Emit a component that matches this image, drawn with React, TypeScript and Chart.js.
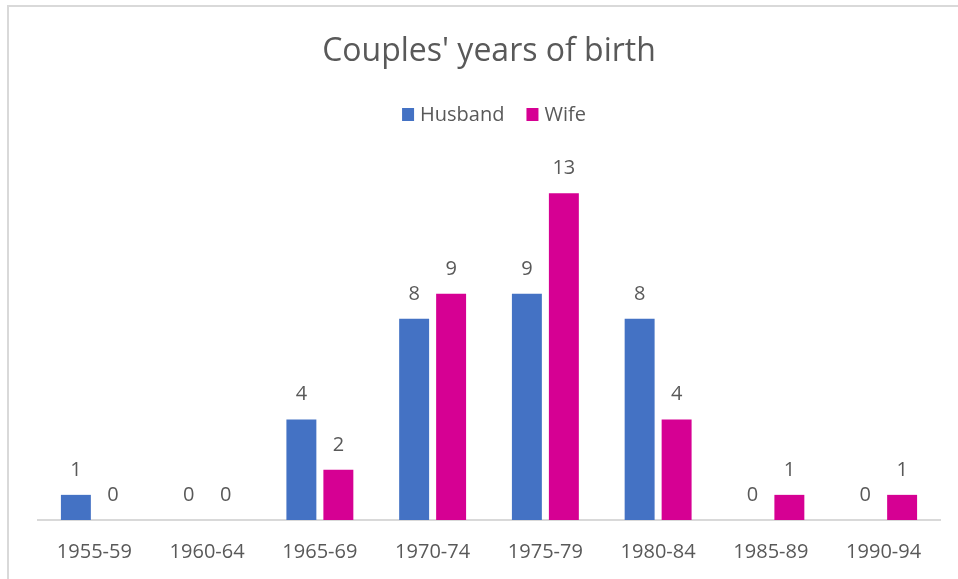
import React, { useEffect, useRef } from "react";
import { Chart, registerables } from "chart.js";

Chart.register(...registerables);

const categories = ["1955-59", "1960-64", "1965-69", "1970-74", "1975-79", "1980-84", "1985-89", "1990-94"];
const husbandValues = [1, 0, 4, 8, 9, 8, 0, 0];
const wifeValues = [0, 0, 2, 9, 13, 4, 1, 1];
const seriesNames = ["Husband", "Wife"];
const titleText = "Couples' years of birth";

const BLUE = "#4472C4";
const MAGENTA = "#D60093";
const TEXT = "#595959";
const FONT = "'Open Sans', sans-serif";

const framePlugin = {
  id: "frame",
  beforeDraw(chart: any) {
    const ctx = chart.ctx;
    ctx.save();
    ctx.fillStyle = "#ffffff";
    ctx.fillRect(0, 0, chart.width, chart.height);
    ctx.strokeStyle = "#d9d9d9";
    ctx.lineWidth = 2;
    ctx.beginPath();
    ctx.moveTo(8, chart.height);
    ctx.lineTo(8, 6);
    ctx.lineTo(chart.width, 6);
    ctx.stroke();
    ctx.restore();
  },
};

const headerPlugin = {
  id: "header",
  afterDraw(chart: any) {
    const ctx = chart.ctx;
    const area = chart.chartArea;
    ctx.save();
    // title
    ctx.fillStyle = TEXT;
    ctx.font = `32px ${FONT}`;
    ctx.textAlign = "center";
    ctx.textBaseline = "alphabetic";
    ctx.fillText(titleText, (area.left + area.right) / 2, 61);
    // legend
    ctx.font = `20px ${FONT}`;
    ctx.textAlign = "left";
    const colors = [BLUE, MAGENTA];
    const sq = 12;
    const gapText = 6;
    const gapItem = 22;
    const widths = seriesNames.map((n) => ctx.measureText(n).width);
    let total = 0;
    widths.forEach((w, i) => {
      total += sq + gapText + w + (i < widths.length - 1 ? gapItem : 0);
    });
    let x = 494 - total / 2;
    seriesNames.forEach((n, i) => {
      ctx.fillStyle = colors[i];
      ctx.fillRect(x, 108, sq, 13);
      ctx.fillStyle = TEXT;
      ctx.fillText(n, x + sq + gapText, 121);
      x += sq + gapText + widths[i] + gapItem;
    });
    ctx.restore();
  },
};

const labelPlugin = {
  id: "valueLabels",
  afterDatasetsDraw(chart: any) {
    const ctx = chart.ctx;
    ctx.save();
    ctx.fillStyle = TEXT;
    ctx.font = `20px ${FONT}`;
    ctx.textAlign = "center";
    ctx.textBaseline = "alphabetic";
    chart.data.datasets.forEach((ds: any, di: number) => {
      const meta = chart.getDatasetMeta(di);
      meta.data.forEach((el: any, i: number) => {
        ctx.fillText(String(ds.data[i]), el.x, el.y - 19);
      });
    });
    ctx.restore();
  },
};

export default function App() {
  const ref = useRef<HTMLCanvasElement>(null);
  useEffect(() => {
    if (!ref.current) return;
    const chart = new Chart(ref.current, {
      type: "bar",
      data: {
        labels: categories,
        datasets: [
          {
            label: seriesNames[0],
            data: husbandValues,
            backgroundColor: BLUE,
            categoryPercentage: 0.656,
            barPercentage: 0.81,
          },
          {
            label: seriesNames[1],
            data: wifeValues,
            backgroundColor: MAGENTA,
            categoryPercentage: 0.656,
            barPercentage: 0.81,
          },
        ],
      },
      options: {
        responsive: false,
        animation: false,
        layout: { padding: { left: 38, right: 18, top: 168, bottom: -5 } },
        plugins: {
          legend: { display: false },
          title: { display: false },
          tooltip: { enabled: false },
        },
        scales: {
          x: {
            grid: { display: false, drawTicks: false },
            border: { display: true, color: "#d9d9d9", width: 2 },
            ticks: {
              color: TEXT,
              font: { family: FONT, size: 20 },
              padding: 20,
              maxRotation: 0,
              autoSkip: false,
            },
          },
          y: {
            display: false,
            min: 0,
            max: 14,
            grid: { display: false },
          },
        },
      },
      plugins: [framePlugin, labelPlugin, headerPlugin],
    });
    return () => chart.destroy();
  }, []);
  return (
    <div style={{ position: "fixed", left: 0, top: 0, width: 958, height: 579, background: "#fff" }}>
      <canvas ref={ref} width={958} height={579} style={{ display: "block", width: 958, height: 579 }} />
    </div>
  );
}
